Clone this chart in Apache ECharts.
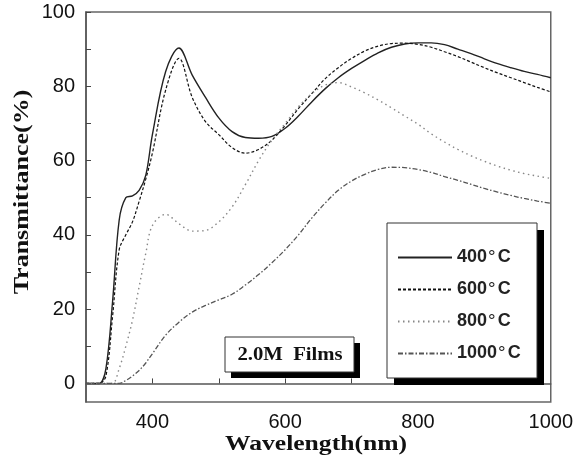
<!DOCTYPE html>
<html>
<head>
<meta charset="utf-8">
<script src="https://cdn.jsdelivr.net/npm/echarts@6/dist/echarts.min.js"></script>
<style>
  html, body { margin: 0; padding: 0; background: #fff; }
</style>
</head>
<body>
<div id="main" style="width: 576px;height:458px;"></div>
<script type="text/javascript">
// wavelength (nm)
var wavelengths = [300, 310, 320, 330, 340, 350, 360, 370, 380, 390,
  400, 420, 440, 460, 480, 500, 520, 540, 560, 580,
  600, 620, 640, 660, 680, 700, 720, 740, 760, 780,
  800, 820, 840, 860, 880, 900, 920, 940, 960, 980, 1000];
// transmittance (%) per annealing temperature
var t400 = [0, 0, 0, 4, 22, 44, 50, 50.5, 52, 56,
  67, 84, 90.3, 83, 77, 71.5, 67.8, 66.2, 66, 66.5,
  68.7, 72, 75.8, 79.3, 82.3, 84.8, 87, 89, 90.5, 91.4,
  91.7, 91.7, 91.2, 90, 88.8, 87.4, 86.1, 85, 84, 83.2, 82.3];
var t600 = [0, 0, 0, 2, 18, 36, 40, 43.5, 49, 55,
  62, 79, 87.5, 77, 70.5, 67, 63.5, 62, 63, 65.5,
  69.5, 74, 78, 82, 85, 87.5, 89.5, 90.8, 91.5, 91.6,
  91.3, 90.5, 89.3, 88, 86.5, 85, 83.6, 82.3, 81, 79.7, 78.5];
var t800 = [0, 0, 0, 0, 0, 4, 10, 17, 26, 35,
  42.5, 45.5, 43, 41, 41.2, 43.5, 47.5, 53.5, 60, 65.5,
  70, 74.5, 78, 80.3, 81, 79.8, 78.2, 76.3, 74.2, 72,
  69.8, 67.2, 65, 63, 61.3, 59.8, 58.5, 57.4, 56.5, 55.8, 55.2];
var t1000 = [0, 0, 0, 0, 0, 0, 0.8, 2, 3.5, 5.5,
  8, 13, 16.5, 19.2, 21, 22.5, 24, 26.5, 29.3, 32.5,
  36, 40, 44.5, 48.5, 52, 54.5, 56.3, 57.6, 58.2, 58.1,
  57.6, 56.8, 55.7, 54.7, 53.6, 52.5, 51.5, 50.6, 49.8, 49.1, 48.5];
var seriesNames = ['400°C', '600°C', '800°C', '1000°C'];
var xTickLabels = [400, 600, 800, 1000];
var yTickLabels = [0, 20, 40, 60, 80, 100];

function pairs(ys) {
  var out = [];
  for (var i = 0; i < wavelengths.length; i++) {
    out.push([wavelengths[i], ys[i]]);
  }
  return out;
}

var chart = echarts.init(document.getElementById('main'), null, { renderer: 'canvas' });

var lineDefs = [
  { data: t400, color: '#222', type: 'solid', width: 1.4 },
  { data: t600, color: '#111', type: [3, 2], width: 1.2 },
  { data: t800, color: '#888', type: [1.5, 3.5], width: 1.4 },
  { data: t1000, color: '#555', type: [5, 2, 1.5, 2], width: 1.3 }
];

var series = lineDefs.map(function (d, i) {
  return {
    name: seriesNames[i],
    type: 'line',
    data: pairs(d.data),
    smooth: 0.35,
    symbol: 'none',
    z: 2,
    lineStyle: { color: d.color, type: d.type, width: d.width },
    itemStyle: { color: d.color }
  };
});

var tickFont = { fontFamily: 'Liberation Sans', fontSize: 20, color: '#111' };
var serifBold = 'bold 20px "Liberation Serif"';

chart.setOption({
  animation: false,
  grid: {
    left: 86, right: 15, top: 12, bottom: 56,
    show: true, borderColor: '#666', borderWidth: 1.5, backgroundColor: 'transparent'
  },
  xAxis: {
    type: 'value', min: 300, max: 1000,
    axisLine: { lineStyle: { color: '#555', width: 1.5 } },
    axisTick: { inside: true, length: 5, customValues: [400, 500, 600, 700, 800, 900], lineStyle: { color: '#444' } },
    axisLabel: Object.assign({ margin: 10, customValues: xTickLabels, formatter: function (v) { return String(v); } }, tickFont),
    splitLine: { show: false }
  },
  yAxis: {
    type: 'value', min: -5, max: 100,
    axisLine: { lineStyle: { color: '#555', width: 1.5 } },
    axisTick: { inside: true, length: 5, customValues: [0, 10, 20, 30, 40, 50, 60, 70, 80, 90, 100], lineStyle: { color: '#444' } },
    axisLabel: Object.assign({ margin: 11, customValues: yTickLabels }, tickFont),
    splitLine: { show: false }
  },
  legend: {
    orient: 'vertical', left: 392, top: 243, z: 10,
    itemWidth: 54, itemHeight: 12, itemGap: 13,
    itemStyle: { opacity: 0 },
    data: seriesNames,
    formatter: function (name) {
      return '{n|' + name.replace('°C', '') + '}{d|°}{n|C}';
    },
    textStyle: {
      rich: {
        n: { fontFamily: 'Liberation Sans', fontSize: 18, fontWeight: 'bold', color: '#222' },
        d: { fontFamily: 'Liberation Sans', fontSize: 19, color: '#222', padding: [0, 2, 0, 1] }
      }
    }
  },
  graphic: [
    // legend frame with hard shadow
    { type: 'rect', z: 3, shape: { x: 394, y: 230, width: 150, height: 155 }, style: { fill: '#000' } },
    { type: 'rect', z: 4, shape: { x: 387, y: 223, width: 150, height: 155 }, style: { fill: '#fff', stroke: '#333', lineWidth: 1 } },
    // sample label
    { type: 'rect', z: 3, shape: { x: 231, y: 343, width: 129, height: 35 }, style: { fill: '#000' } },
    { type: 'rect', z: 4, shape: { x: 225, y: 337, width: 129, height: 35 }, style: { fill: '#fff', stroke: '#333', lineWidth: 1 } },
    {
      type: 'text', z: 5, x: 290, y: 355, scaleX: 1.15,
      style: { text: '2.0M  Films', align: 'center', verticalAlign: 'middle', font: 'bold 18px "Liberation Serif"', fill: '#111' }
    },
    // axis titles
    {
      type: 'text', x: 316, y: 445, scaleX: 1.28,
      style: { text: 'Wavelength(nm)', align: 'center', verticalAlign: 'middle', font: serifBold, fill: '#111' }
    },
    {
      type: 'text', x: 23, y: 192, rotation: Math.PI / 2, scaleX: 1.3,
      style: { text: 'Transmittance(%)', align: 'center', verticalAlign: 'middle', font: serifBold, fill: '#111' }
    }
  ],
  series: series
});
</script>
</body>
</html>
